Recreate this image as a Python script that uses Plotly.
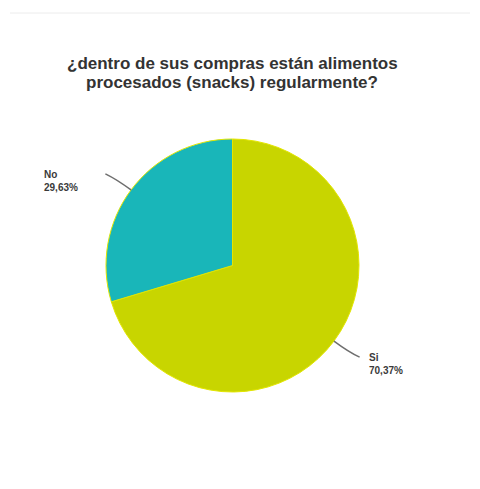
import math
import plotly.graph_objects as go

# Survey answers and their shares (percent)
labels = ["Si", "No"]
values = [70.37, 29.63]
colors = ["#c8d500", "#19b6b9"]

title_lines = ["¿dentro de sus compras están alimentos",
               "procesados (snacks) regularmente?"]

W, H = 480, 489
# pie placement in pixels (centre and radius)
CX, CY, R = 232.5, 265.5, 126.5
FONT = "Liberation Sans, Arial, sans-serif"

fig = go.Figure(go.Pie(
    labels=labels,
    values=values,
    sort=False,
    direction="clockwise",
    rotation=0,
    textinfo="none",
    hoverinfo="label+percent",
    marker=dict(colors=colors, line=dict(color="#e3e600", width=1)),
    domain=dict(x=[(CX - R) / W, (CX + R) / W],
                y=[1 - (CY + R) / H, 1 - (CY - R) / H]),
    showlegend=False,
))


def px(x, y):
    return x / W, 1 - y / H


shapes = []
annotations = []
total = sum(values)
start = 0.0
for lab, val in zip(labels, values):
    mid = start + val / total * 360 / 2  # degrees clockwise from 12 o'clock
    start += val / total * 360
    a = math.radians(mid)
    ux, uy = math.sin(a), -math.cos(a)
    side = 1 if ux > 0 else -1
    sx, sy = CX + R * ux, CY + R * uy
    # leader line: leaves the rim radially, eases toward horizontal
    kx, ky = sx + 18 * ux, sy + 18 * uy
    ex, ey = sx + 27 * ux + side * 4, sy + 27 * uy
    p0, p1, p2 = px(sx, sy), px(kx, ky), px(ex, ey)
    shapes.append(dict(
        type="path", xref="paper", yref="paper",
        path=f"M {p0[0]} {p0[1]} Q {p1[0]} {p1[1]} {p2[0]} {p2[1]}",
        line=dict(color="#6e6e6e", width=1.5),
    ))
    txt = f"<b>{lab}<br>{val:.2f}%</b>".replace(".", ",")
    if side > 0:
        tx, anchor = ex + 7, "left"
    else:
        tx, anchor = ex - 25, "right"
    ty = ey + 7
    annotations.append(dict(
        x=tx / W, y=1 - ty / H, xref="paper", yref="paper",
        text=txt, showarrow=False, xanchor=anchor, yanchor="middle",
        align="left",
        font=dict(family=FONT, size=10, color="#3a3a3a"),
    ))

# two-line heading
for line, yc in zip(title_lines, [63, 82]):
    annotations.append(dict(
        x=232 / W, y=1 - yc / H, xref="paper", yref="paper",
        text=f"<b>{line}</b>", showarrow=False,
        xanchor="center", yanchor="middle", borderpad=0,
        font=dict(family=FONT, size=17, color="#333333"),
    ))

# thin rule along the top
shapes.append(dict(type="line", xref="paper", yref="paper",
                   x0=10 / W, x1=470 / W, y0=1 - 13 / H, y1=1 - 13 / H,
                   line=dict(color="#ececec", width=1)))

fig.update_layout(
    width=W, height=H,
    margin=dict(l=0, r=0, t=0, b=0),
    paper_bgcolor="white",
    plot_bgcolor="white",
    shapes=shapes,
    annotations=annotations,
)

fig.write_html("out.html")
